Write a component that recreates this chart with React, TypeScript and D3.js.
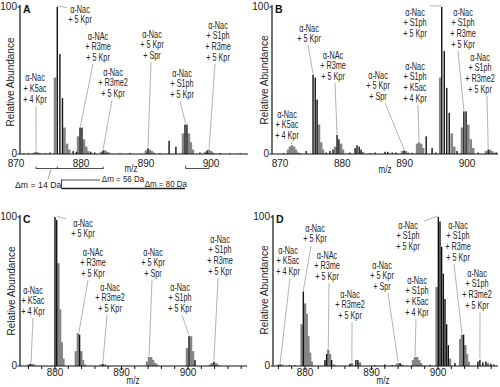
import React from "react";
import * as d3 from "d3";

// [m/z, relative abundance, tone] tone 1 = black line, 0 = grey bar
type Peak = [number, number, number];

const peaksA: Peak[] = [
  [871.2, 0.5, 1], [871.9, 0.5, 1],
  [872.8, 1, 0], [873.1, 1.5, 0], [873.4, 1, 0], [873.7, 0.5, 0],
  [874.5, 0.5, 1], [875.2, 1, 1],
  [876.0, 52, 0], [876.35, 100, 1], [876.75, 68, 1], [877.15, 38, 1], [877.45, 18, 0], [877.85, 7, 0], [878.2, 3, 0], [878.8, 2, 1], [879.3, 1.5, 1],
  [879.55, 12, 0], [879.85, 18, 1], [880.15, 18, 1], [880.45, 10, 0], [880.8, 5, 0], [881.1, 2, 0], [881.5, 1.5, 1], [882.1, 1, 1],
  [883.1, 1.5, 0], [883.4, 2.5, 1], [883.7, 2.5, 0], [884.0, 1.5, 0], [884.3, 1, 0],
  [886.0, 0.5, 1], [887.5, 0.7, 1],
  [890.0, 2.5, 0], [890.3, 4, 1], [890.6, 3, 0], [890.9, 2, 0], [891.2, 1, 0],
  [892.15, 0.6, 1], [893.55, 9, 1], [894.6, 5, 1],
  [895.7, 14, 0], [896.0, 20, 1], [896.3, 20, 1], [896.6, 14, 0], [896.9, 8, 0], [897.2, 3, 0],
  [898.3, 1, 1],
  [899.1, 1.5, 0], [899.4, 2.5, 1], [899.7, 3, 0], [900.0, 2, 0], [900.3, 1, 0],
  [901.4, 0.6, 1], [902.9, 0.5, 1], [904.5, 0.5, 1],
];

const peaksB: Peak[] = [
  [870.6, 0.5, 1],
  [871.3, 3, 0], [871.6, 5, 0], [871.9, 6, 0], [872.25, 5, 0], [872.55, 3, 0], [872.9, 1, 0],
  [873.2, 0.5, 1], [874.2, 2, 1],
  [875.3, 54, 1], [875.65, 52, 1], [875.95, 37, 1], [876.25, 20, 0], [876.6, 8, 0], [876.9, 3, 0],
  [877.4, 1, 1], [878.0, 2, 1], [878.5, 3, 1],
  [878.85, 5, 0], [879.15, 13, 1], [879.45, 10, 1], [879.8, 7, 0], [880.1, 3, 0],
  [881.2, 1, 1],
  [882.05, 4, 1], [882.35, 6, 1], [882.7, 5, 1], [883.0, 3, 1], [883.3, 1.5, 0],
  [884.4, 0.5, 1], [885.25, 1, 1], [886.85, 1.5, 1], [887.3, 1.5, 1], [888.0, 1, 1], [888.6, 1, 1],
  [889.6, 2, 0], [889.9, 2.5, 1], [890.2, 2, 0], [890.55, 1, 0],
  [891.2, 0.8, 1],
  [892.0, 7, 0], [892.3, 8, 0], [892.65, 7, 0], [892.95, 4, 0],
  [893.45, 12, 1], [894.4, 4, 1], [895.0, 1, 1],
  [895.7, 52, 0], [895.95, 100, 1], [896.35, 70, 1], [896.75, 45, 1], [897.15, 28, 1], [897.55, 14, 0], [897.95, 5, 0],
  [898.4, 2, 1],
  [899.2, 18, 0], [899.5, 29, 1], [899.85, 29, 1], [900.2, 20, 0], [900.6, 10, 0], [901.0, 4, 0],
  [901.8, 1, 1],
  [903.05, 2, 0], [903.4, 3, 1], [903.7, 3, 0], [904.0, 2, 0], [904.35, 1, 0], [904.7, 1, 1],
];

const peaksC: Peak[] = [
  [875.95, 1, 0], [876.25, 1.5, 1], [876.55, 1.5, 0], [876.85, 1, 0],
  [880.0, 100, 1], [880.25, 98, 1], [880.5, 69, 0], [880.75, 38, 0], [881.0, 16, 0], [881.25, 5, 0],
  [883.15, 10, 0], [883.45, 22, 0], [883.7, 21, 1], [883.95, 10, 0], [884.2, 4, 0], [884.5, 1, 0],
  [886.9, 1, 0], [887.2, 1.5, 1], [887.5, 1, 0],
  [893.85, 3, 0], [894.15, 6, 0], [894.45, 6, 0], [894.75, 4, 0], [895.05, 2, 0], [895.35, 1, 0],
  [899.85, 12, 0], [900.15, 20, 1], [900.45, 20, 0], [900.75, 10, 0], [901.05, 4, 1],
  [903.3, 1, 0], [903.6, 2, 0], [903.9, 3, 1], [904.2, 2, 0], [904.5, 1, 0],
];

const peaksD: Peak[] = [
  [875.95, 1, 0], [876.25, 1, 1], [876.55, 1, 0],
  [877.7, 0.5, 1], [878.5, 0.5, 1],
  [879.5, 28, 0], [879.75, 50, 1], [880.0, 42, 0], [880.25, 35, 0], [880.5, 20, 0], [880.75, 9, 0], [881.0, 3, 0],
  [883.0, 4, 1], [883.25, 8, 1], [883.5, 11, 0], [883.75, 8, 0], [884.0, 4, 1], [884.35, 1, 0],
  [886.75, 1.5, 1], [887.05, 2, 0], [887.65, 4, 1], [887.95, 4, 1], [888.25, 2.5, 0],
  [890.5, 0.5, 1], [892.0, 1, 1], [893.1, 0.7, 1],
  [893.7, 1, 0], [894.0, 2, 0], [894.3, 2, 1], [894.6, 1, 0],
  [896.25, 4, 0], [896.55, 6, 0], [896.85, 6, 0], [897.15, 4, 0], [897.45, 2, 0],
  [898.8, 0.8, 1],
  [899.8, 53, 0], [900.05, 100, 1], [900.3, 97, 1], [900.55, 80, 1], [900.8, 62, 1], [901.05, 45, 1], [901.3, 28, 1], [901.55, 14, 1], [901.8, 5, 0],
  [902.55, 2, 1],
  [903.35, 18, 0], [903.6, 21, 0], [903.85, 21, 1], [904.1, 14, 0], [904.35, 8, 0], [904.6, 3, 0],
  [906.0, 3, 1], [906.3, 4, 1], [906.75, 2.5, 1], [907.2, 3, 1], [907.5, 2, 0], [907.95, 1.5, 1], [908.4, 1, 1],
];

type Callout = { lines: string[]; mz: number; ab: number };

const calloutsA: Callout[] = [
  { lines: ["α-Nac", "+ K5ac", "+ 4 Kpr"], mz: 873.1, ab: 1.5 },
  { lines: ["α-Nac", "+ 5 Kpr"], mz: 876.35, ab: 100 },
  { lines: ["α-NAc", "+ R3me", "+ 5 Kpr"], mz: 879.9, ab: 18 },
  { lines: ["α-Nac", "+ R3me2", "+ 5 Kpr"], mz: 883.4, ab: 2.5 },
  { lines: ["α-Nac", "+ 5 Kpr", "+ Spr"], mz: 890.3, ab: 4 },
  { lines: ["α-Nac", "+ S1ph", "+ 5 Kpr"], mz: 896.1, ab: 20 },
  { lines: ["α-Nac", "+ S1ph", "+ R3me", "+ 5 Kpr"], mz: 899.7, ab: 3 },
];

const calloutsB: Callout[] = [
  { lines: ["α-Nac", "+ K5ac", "+ 4 Kpr"], mz: 871.9, ab: 6 },
  { lines: ["α-Nac", "+ 5 Kpr"], mz: 875.3, ab: 54 },
  { lines: ["α-NAc", "+ R3me", "+ 5 Kpr"], mz: 879.15, ab: 13 },
  { lines: ["α-Nac", "+ 5 Kpr", "+ Spr"], mz: 889.9, ab: 2.5 },
  { lines: ["α-Nac", "+ S1ph", "+ K5ac", "+ 4 Kpr"], mz: 892.3, ab: 8 },
  { lines: ["α-Nac", "+ S1ph", "+ 5 Kpr"], mz: 895.95, ab: 100 },
  { lines: ["α-Nac", "+ S1ph", "+ R3me", "+ 5 Kpr"], mz: 899.5, ab: 29 },
  { lines: ["α-Nac", "+ S1ph", "+ R3me2", "+ 5 Kpr"], mz: 903.4, ab: 3 },
];

const calloutsC: Callout[] = [
  { lines: ["α-Nac", "+ K5ac", "+ 4 Kpr"], mz: 876.4, ab: 1.5 },
  { lines: ["α-Nac", "+ 5 Kpr"], mz: 880.25, ab: 100 },
  { lines: ["α-NAc", "+ R3me", "+ 5 Kpr"], mz: 883.6, ab: 22 },
  { lines: ["α-Nac", "+ R3me2", "+ 5 Kpr"], mz: 887.2, ab: 1.5 },
  { lines: ["α-Nac", "+ 5 Kpr", "+ Spr"], mz: 894.15, ab: 6 },
  { lines: ["α-Nac", "+ S1ph", "+ 5 Kpr"], mz: 900.15, ab: 20 },
  { lines: ["α-Nac", "+ S1ph", "+ R3me", "+ 5 Kpr"], mz: 903.9, ab: 3 },
];

const calloutsD: Callout[] = [
  { lines: ["α-Nac", "+ K5ac", "+ 4 Kpr"], mz: 876.25, ab: 1 },
  { lines: ["α-Nac", "+ 5 Kpr"], mz: 879.75, ab: 50 },
  { lines: ["α-NAc", "+ R3me", "+ 5 Kpr"], mz: 883.5, ab: 11 },
  { lines: ["α-Nac", "+ R3me2", "+ 5 Kpr"], mz: 887.05, ab: 2 },
  { lines: ["α-Nac", "+ 5 Kpr", "+ Spr"], mz: 894.0, ab: 2 },
  { lines: ["α-Nac", "+ S1ph", "+ K5ac", "+ 4 Kpr"], mz: 896.55, ab: 6 },
  { lines: ["α-Nac", "+ S1ph", "+ 5 Kpr"], mz: 900.05, ab: 100 },
  { lines: ["α-Nac", "+ S1ph", "+ R3me", "+ 5 Kpr"], mz: 903.6, ab: 21 },
  { lines: ["α-Nac", "+ S1ph", "+ R3me2", "+ 5 Kpr"], mz: 906.3, ab: 4 },
];

// label placement: [centre x, first baseline, leader start x, leader start y]
const placeA = [[35, 81, 36, 106], [80, 12.5, 67, 7.5], [98, 39.5, 93, 64], [113, 75.5, 112, 100], [152, 37.5, 151, 62], [182, 76.5, 180, 101], [218, 28.5, 215, 64]];
const placeB = [[287, 117.5, 291, 142], [309, 31.5, 308, 45], [333, 58.5, 335, 83], [378, 78.5, 385, 103], [415, 69.5, 418, 105], [415, 15.5, 430, 6], [463, 15.5, 458, 51], [480, 60.5, 487, 96]];
const placeC = [[33, 293.5, 33, 318], [83, 226.5, 66, 219], [93, 255.5, 88, 280], [110, 290.5, 107, 315], [153, 255.5, 152, 280], [180, 290.5, 182, 315], [220, 242.5, 218, 278]];
const placeD = [[288, 253.5, 290, 278], [315, 231.5, 311, 246], [327, 258.5, 329, 283], [350, 297.5, 352, 322], [382, 268.5, 388, 293], [417, 283.5, 416, 319], [408, 228.5, 424, 221], [458, 228.5, 454, 264], [477, 276.5, 480, 312]];

const ticksAB = [870, 880, 890, 900];
const ticksCD = [880, 890, 900];
const minorCD = d3.range(876, 909, 2);

// mass shift brackets under panel A
const deltaTicksA = [873.1, 876.35, 879.85, 883.4];
const deltaPairA = [896.1, 899.7];
const deltaSpanA = [877.0, 882.9, 896.0];
const deltaText = ["Δm = 14 Da", "Δm = 56 Da", "Δm = 80 Da"];

const FONT = "'Liberation Sans', Arial, Helvetica, sans-serif";
const LH = 10.8;

const frames = {
  A: { mz: [870, 900], px: [16, 211], ax0: 20, ax1: 248, y0: 154, y1: 7, tickDy: 12.5, mzY: 171.5, mzX: 131, ylX: 14, ylY: 82 },
  B: { mz: [870, 900], px: [280, 467], ax0: 272, ax1: 498, y0: 154, y1: 7, tickDy: 12.5, mzY: 173, mzX: 385, ylX: 268, ylY: 80 },
  C: { mz: [880, 900], px: [55, 188], ax0: 20, ax1: 247, y0: 366, y1: 217, tickDy: 9.5, mzY: 384, mzX: 133, ylX: 15, ylY: 291 },
  D: { mz: [880, 900], px: [305, 438], ax0: 273, ax1: 498, y0: 366, y1: 217, tickDy: 9.5, mzY: 384, mzX: 383, ylX: 268, ylY: 290 },
};

function Panel({ f, peaks, callouts, place, ticks, minor, letter, children }: any) {
  const x = d3.scaleLinear().domain(f.mz).range(f.px);
  const y = d3.scaleLinear().domain([0, 100]).range([f.y0, f.y1]);
  const sorted = [...peaks].sort((a: Peak, b: Peak) => a[2] - b[2]);
  return (
    <g fontFamily={FONT}>
      {callouts.map((c: Callout, i: number) => {
        const [cx, ty, lx, ly] = place[i];
        return (
          <g key={i}>
            <line x1={lx} y1={ly} x2={x(c.mz)} y2={y(c.ab) - 1} stroke="#a0a0a0" strokeWidth={0.8} />
            {c.lines.map((t, j) => (
              <text key={j} transform={`translate(${cx},${ty + j * LH}) scale(0.68,1)`} textAnchor="middle" fontSize={10.7} fill="#1e1e1e">
                {t}
              </text>
            ))}
          </g>
        );
      })}
      {sorted.map(([m, a, k]: Peak, i: number) =>
        k ? (
          <rect key={i} x={x(m) - 0.7} width={1.4} y={y(a)} height={y(0) - y(a)} fill="#111" />
        ) : (
          <rect key={i} x={x(m) - 1.3} width={2.6} y={y(a)} height={y(0) - y(a)} fill="#858585" />
        )
      )}
      <line x1={f.ax0} x2={f.ax0} y1={y(100) - 2} y2={y(0)} stroke="#111" strokeWidth={1.2} />
      <line x1={f.ax0} x2={f.ax1} y1={y(0)} y2={y(0)} stroke="#111" strokeWidth={1.2} />
      {[0, 100].map((v) => (
        <g key={v}>
          <line x1={f.ax0 - 2.5} x2={f.ax0} y1={y(v)} y2={y(v)} stroke="#111" />
          <text x={f.ax0 - 3} y={y(v) + 3} textAnchor="end" fontSize={10} fill="#222">
            {v}
          </text>
        </g>
      ))}
      {minor &&
        minor.map((t: number) => (
          <line key={t} x1={x(t)} x2={x(t)} y1={y(0)} y2={y(0) + (t % 10 === 0 ? 4 : 3)} stroke="#111" />
        ))}
      {ticks.map((t: number) => (
        <text key={t} x={x(t)} y={f.y0 + f.tickDy} textAnchor="middle" fontSize={10} fill="#222">
          {t}
        </text>
      ))}
      <text transform={`translate(${f.mzX},${f.mzY}) scale(0.8,1)`} textAnchor="middle" fontSize={10} fill="#222">
        m/z
      </text>
      <text transform={`translate(${f.ylX},${f.ylY}) rotate(-90)`} textAnchor="middle" fontSize={10} fill="#222">
        Relative Abundance
      </text>
      <text x={f.ax0 + 3} y={f.y1 + 5.5} fontSize={10.5} fontWeight="bold" fill="#111">
        {letter}
      </text>
      {children && children(x)}
    </g>
  );
}

function DeltaMarks(x: d3.ScaleLinear<number, number>) {
  const by = 168.5;
  const [s0, s1, s2] = deltaSpanA;
  return (
    <g stroke="#222" fill="none" strokeWidth={0.8}>
      <line x1={x(deltaTicksA[0])} x2={x(deltaTicksA[deltaTicksA.length - 1])} y1={by} y2={by} />
      {deltaTicksA.map((m) => (
        <line key={m} x1={x(m)} x2={x(m)} y1={by - 2} y2={by + 0.5} />
      ))}
      <path d={`M${x(deltaPairA[0])},${by - 3}V${by}H${x(deltaPairA[1])}V${by - 3}`} />
      <line x1={48} y1={179} x2={51} y2={by + 1} stroke="#888" />
      <line x1={x(s0)} x2={x(s0)} y1={179.5} y2={188.5} />
      <line x1={x(s0)} x2={x(s1)} y1={180} y2={180} />
      <line x1={x(s0)} x2={x(s2)} y1={188.5} y2={188.5} strokeWidth={1.5} />
      <g stroke="none" fill="#222" fontSize={9.5}>
        <text transform={`translate(15,187.5) scale(0.92,1)`}>{deltaText[0]}</text>
        <text transform={`translate(${x(s1) + 2},182) scale(0.84,1)`}>{deltaText[1]}</text>
        <text transform={`translate(${x(s2) + 2},187) scale(0.84,1)`} textAnchor="end">
          {deltaText[2]}
        </text>
      </g>
    </g>
  );
}

export default function App() {
  return (
    <svg width={500} height={387} style={{ position: "absolute", left: 0, top: 0, background: "#fff" }}>
      <Panel f={frames.A} peaks={peaksA} callouts={calloutsA} place={placeA} ticks={ticksAB} letter="A">
        {DeltaMarks}
      </Panel>
      <Panel f={frames.B} peaks={peaksB} callouts={calloutsB} place={placeB} ticks={ticksAB} letter="B" />
      <Panel f={frames.C} peaks={peaksC} callouts={calloutsC} place={placeC} ticks={ticksCD} minor={minorCD} letter="C" />
      <Panel f={frames.D} peaks={peaksD} callouts={calloutsD} place={placeD} ticks={ticksCD} minor={minorCD} letter="D" />
    </svg>
  );
}
